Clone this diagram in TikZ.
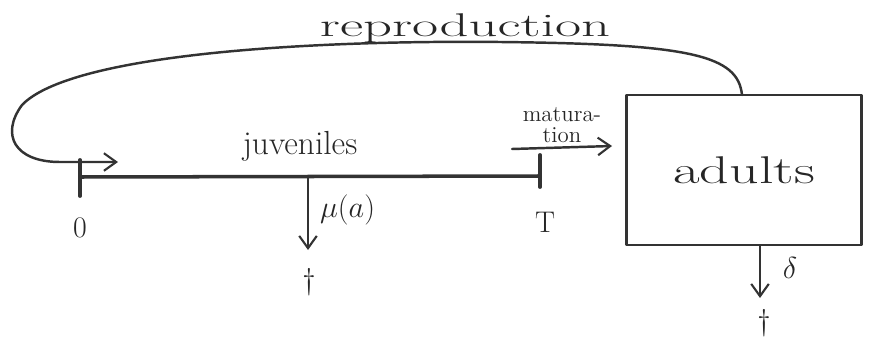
\documentclass[tikz,border=0pt]{standalone}
\usetikzlibrary{arrows.meta}
\begin{document}
\begin{tikzpicture}[x=0.02cm,y=-0.02cm,
  pen/.style={draw=black!80,line width=1.4pt,line cap=round,line join=round},
  arr/.style={pen,-{Straight Barb[length=7pt,width=10pt,line width=1.2pt]}},
  lbl/.style={text=black!85,inner sep=1pt}]
\useasboundingbox (0,0) rectangle (876,338);
% adults box
\node[pen,minimum width=4.7cm,minimum height=3cm,lbl,font=\fontsize{22}{26}\selectfont] (adults) at (744,170) {\scalebox{1.5}[1]{adults}};
% juvenile bar
\coordinate (j0) at (80,177);
\coordinate (jT) at (540,176);
\coordinate (j0a) at (80,160);
\coordinate (j0b) at (80,196);
\coordinate (jTa) at (540,155);
\coordinate (jTb) at (540,187);
\draw[pen,line width=2pt] (j0) -- (jT);
\draw[pen,line width=2.2pt] (j0a) -- (j0b);
\draw[pen,line width=2.2pt] (jTa) -- (jTb);
\node[lbl,font=\fontsize{19}{24}\selectfont] (juv) at (300,146) {juveniles};
\node[lbl,font=\fontsize{17}{20}\selectfont] (zero) at (80,228) {0};
\node[lbl,font=\fontsize{17}{20}\selectfont] (T) at (545,222) {T};
% juvenile mortality
\coordinate (mutop) at (308,178);
\node[lbl,font=\fontsize{17}{20}\selectfont] (dag1) at (309,282) {\dag};
\draw[arr] (mutop) -- (308,250);
\node[lbl,font=\fontsize{16}{19}\selectfont,anchor=west] (mu) at (318,210) {$\mu(a)$};
% maturation
\coordinate (mats) at (512,149);
\coordinate (mate) at (612,146);
\draw[arr] (mats) -- (mate);
\node[lbl,font=\fontsize{13}{12}\selectfont,align=center] (mat) at (562,125) {matura-\\tion};
% adult mortality
\coordinate (dtop) at (760,246);
\node[lbl,font=\fontsize{17}{20}\selectfont] (dag2) at (764,323) {\dag};
\draw[arr] (dtop) -- (760,298);
\node[lbl,font=\fontsize{16}{19}\selectfont] (delta) at (790,268) {$\delta$};
% reproduction
\coordinate (repend) at (118,162);
\draw[arr] (742,95) .. controls (738,55) and (690,44) .. (500,42)
  .. controls (300,40) and (70,55) .. (22,105)
  .. controls (0,135) and (15,162) .. (60,162) -- (repend);
\node[lbl,font=\fontsize{17}{20}\selectfont] (rep) at (465,28) {\scalebox{1.9}[1.1]{reproduction}};
\end{tikzpicture}
\end{document}
